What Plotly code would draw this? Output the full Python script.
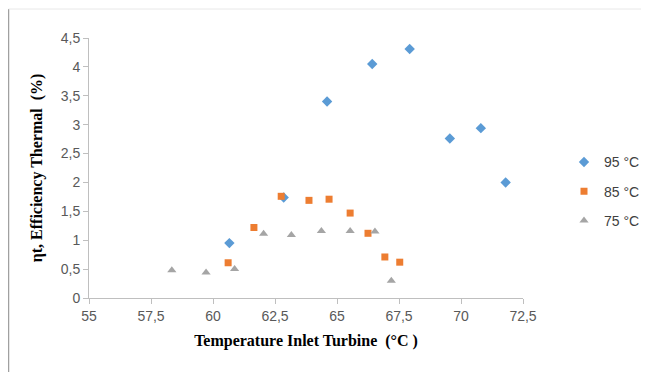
import plotly.graph_objects as go

x95 = [60.66, 62.85, 64.6, 66.42, 67.93, 69.55, 70.8, 71.8]
y95 = [0.95, 1.74, 3.40, 4.05, 4.31, 2.76, 2.94, 2.00]

x85 = [60.61, 61.65, 62.75, 63.87, 64.68, 65.53, 66.25, 66.93, 67.53]
y85 = [0.61, 1.22, 1.76, 1.69, 1.71, 1.47, 1.12, 0.71, 0.62]

x75 = [58.34, 59.72, 60.87, 62.04, 63.16, 64.37, 65.53, 66.53, 67.19]
y75 = [0.48, 0.44, 0.50, 1.11, 1.09, 1.16, 1.16, 1.15, 0.30]

x_tickvals = [55, 57.5, 60, 62.5, 65, 67.5, 70, 72.5]
x_ticktext = ["55", "57,5", "60", "62,5", "65", "67,5", "70", "72,5"]
y_tickvals = [0, 0.5, 1, 1.5, 2, 2.5, 3, 3.5, 4, 4.5]
y_ticktext = ["0", "0,5", "1", "1,5", "2", "2,5", "3", "3,5", "4", "4,5"]

# page body has an 8px margin; figure sized/placed to compensate
OFF = 8
W, H = 649 - OFF, 372 - OFF
L, T = 89 - OFF, 37.5 - OFF
pw, ph = 434, 260.2
R = W - L - pw
B = H - T - ph

def px2paper_x(px):
    return (px - OFF - L) / pw

def py2paper_y(py):
    return (T + ph - (py - OFF)) / ph

fig = go.Figure()
fig.add_trace(go.Scatter(x=x95, y=y95, mode="markers", name="95 °C", legendgroup="a",
                         marker=dict(symbol="diamond", size=8, color="#5B9BD5")))
fig.add_trace(go.Scatter(x=x85, y=y85, mode="markers", name="85 °C", legendgroup="b",
                         marker=dict(symbol="square", size=7, color="#ED7D31")))
fig.add_trace(go.Scatter(x=x75, y=y75, mode="markers", name="75 °C", legendgroup="c",
                         marker=dict(symbol="triangle-up", size=8, color="#A5A5A5")))

axis_common = dict(showgrid=False, zeroline=False, showline=True, linecolor="#BFBFBF",
                   linewidth=1, ticks="outside", ticklen=5, tickcolor="#BFBFBF",
                   automargin=False,
                   tickfont=dict(family="Liberation Sans", size=14, color="#595959"))

fig.update_layout(
    width=W, height=H,
    margin=dict(l=L, r=R, t=T, b=B, autoexpand=False),
    paper_bgcolor="white", plot_bgcolor="white",
    xaxis=dict(range=[55, 72.5], tickvals=x_tickvals, ticktext=x_ticktext,
               title=dict(text="Temperature Inlet Turbine  (°C )", standoff=12,
                          font=dict(family="Liberation Serif", size=16, color="black", weight="bold")),
               **axis_common),
    yaxis=dict(range=[0, 4.5], tickvals=y_tickvals, ticktext=y_ticktext,
               title=dict(text="ηt, Efficiency Thermal  (%)", standoff=14,
                          font=dict(family="Liberation Serif", size=16, color="black", weight="bold")),
               **axis_common),
    legend=dict(x=px2paper_x(564), y=py2paper_y(191), xanchor="left", yanchor="middle",
                font=dict(family="Liberation Sans", size=14, color="#404040"),
                tracegroupgap=8, traceorder="grouped", itemwidth=30,
                bgcolor="rgba(0,0,0,0)"),
    shapes=[
        dict(type="line", xref="paper", yref="paper",
             x0=px2paper_x(8.5), x1=px2paper_x(8.5), y0=py2paper_y(8.5), y1=py2paper_y(372),
             line=dict(color="#A0A0A0", width=1.5)),
        dict(type="line", xref="paper", yref="paper",
             x0=px2paper_x(8.5), x1=px2paper_x(649), y0=py2paper_y(8.5), y1=py2paper_y(8.5),
             line=dict(color="#E8E8E8", width=1)),
    ],
)

fig.write_html("out.html")
